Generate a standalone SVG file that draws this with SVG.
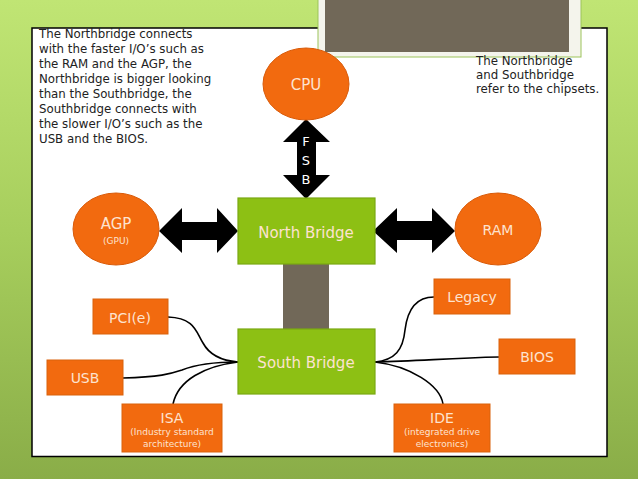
<svg xmlns="http://www.w3.org/2000/svg" width="638" height="479" viewBox="0 0 638 479">
<defs>
<linearGradient id="bg" x1="0" y1="0" x2="0" y2="1">
<stop offset="0" stop-color="#c0e574"/>
<stop offset="0.5" stop-color="#a6cd5c"/>
<stop offset="1" stop-color="#8aad48"/>
</linearGradient>
<style>
.t{font-family:"DejaVu Sans","Liberation Sans",sans-serif;fill:#222;font-size:11.8px}
.lbl{font-family:"DejaVu Sans","Liberation Sans",sans-serif;fill:#fde3cf;text-anchor:middle}
.oval{fill:#f26a0f;stroke:#d95a08;stroke-width:1}
.box{fill:#f26a0f;stroke:#d9620c;stroke-width:1}
.bridge{fill:#8dc014;stroke:#7aa812;stroke-width:1.2}
.arr{fill:#000}
.con{fill:none;stroke:#000;stroke-width:1.6}
</style>
</defs>
<rect x="0" y="0" width="638" height="479" fill="url(#bg)"/>
<rect x="32" y="28" width="575" height="428.5" fill="#fff" stroke="#000" stroke-width="1.5"/>
<rect x="318" y="-5" width="263" height="62" fill="#f4f4ec" stroke="#9cc45a" stroke-width="1"/>
<rect x="325" y="-5" width="244" height="57" fill="#716858"/>

<g id="text-left" class="t">
<text x="39" y="38">The Northbridge connects</text>
<text x="39" y="53">with the faster I/O’s such as</text>
<text x="39" y="68">the RAM and the AGP, the</text>
<text x="39" y="83">Northbridge is bigger looking</text>
<text x="39" y="98">than the Southbridge, the</text>
<text x="39" y="113">Southbridge connects with</text>
<text x="39" y="128">the slower I/O’s such as the</text>
<text x="39" y="143">USB and the BIOS.</text>
</g>
<g id="text-right" class="t">
<text x="476" y="65">The Northbridge</text>
<text x="476" y="79">and Southbridge</text>
<text x="476" y="93">refer to the chipsets.</text>
</g>

<g id="connectors">
<polygon class="arr" points="306,119 330,142 316,142 316,175 330,175 306,199 283,175 297,175 297,142 283,142"/>
<polygon class="arr" points="159,231 182,208 182,222 217,222 217,208 238,231 217,253 217,240 182,240 182,253"/>
<polygon class="arr" points="373,231 397,208 397,221 432,221 432,208 455,231 432,253 432,240 397,240 397,253"/>
<rect x="283" y="264" width="46" height="66" fill="#716858"/>
<path class="con" d="M168,317 C195,318 196,332 203,343 C210,356 225,361 238,362"/>
<path class="con" d="M123,378 C160,377 170,374 182,370 C197,364 215,362 238,362"/>
<path class="con" d="M238,362 C205,366 178,380 173,404"/>
<path class="con" d="M375,362 C395,360 403,350 405,330 C408,305 420,297 434,297"/>
<path class="con" d="M375,362 C420,361 450,358 499,357"/>
<path class="con" d="M375,362 C410,366 440,385 443,404"/>
<text class="lbl" x="306" y="146" font-size="13" style="fill:#fff">F</text>
<text class="lbl" x="306" y="165" font-size="13" style="fill:#fff">S</text>
<text class="lbl" x="306" y="184" font-size="13" style="fill:#fff">B</text>
</g>

<g id="cpu">
<ellipse class="oval" cx="306" cy="84" rx="43" ry="36"/>
<text class="lbl" x="306" y="90" font-size="15">CPU</text>
</g>
<g id="agp">
<ellipse class="oval" cx="116" cy="229" rx="43" ry="36"/>
<text class="lbl" x="116" y="229" font-size="15">AGP</text>
<text class="lbl" x="116" y="244" font-size="9">(GPU)</text>
</g>
<g id="ram">
<ellipse class="oval" cx="498" cy="229" rx="43" ry="36"/>
<text class="lbl" x="498" y="235" font-size="14">RAM</text>
</g>
<g id="north-bridge">
<rect class="bridge" x="238" y="198" width="137" height="66"/>
<text class="lbl" x="306" y="238" font-size="15">North Bridge</text>
</g>
<g id="south-bridge">
<rect class="bridge" x="238" y="329" width="137" height="65"/>
<text class="lbl" x="306" y="368" font-size="15">South Bridge</text>
</g>
<g id="pci">
<rect class="box" x="93" y="299" width="75" height="35"/>
<text class="lbl" x="130" y="323" font-size="14">PCI(e)</text>
</g>
<g id="usb">
<rect class="box" x="47" y="360" width="76" height="35"/>
<text class="lbl" x="85" y="383" font-size="14">USB</text>
</g>
<g id="legacy">
<rect class="box" x="434" y="279" width="76" height="35"/>
<text class="lbl" x="472" y="302" font-size="14">Legacy</text>
</g>
<g id="bios">
<rect class="box" x="499" y="339" width="76" height="35"/>
<text class="lbl" x="537" y="362" font-size="14">BIOS</text>
</g>
<g id="isa">
<rect class="box" x="122" y="404" width="100" height="48"/>
<text class="lbl" x="172" y="423" font-size="14">ISA</text>
<text class="lbl" x="172" y="435" font-size="9">(Industry standard</text>
<text class="lbl" x="172" y="447" font-size="9">architecture)</text>
</g>
<g id="ide">
<rect class="box" x="394" y="404" width="96" height="48"/>
<text class="lbl" x="442" y="423" font-size="14">IDE</text>
<text class="lbl" x="442" y="435" font-size="9">(integrated drive</text>
<text class="lbl" x="442" y="447" font-size="9">electronics)</text>
</g>
</svg>
